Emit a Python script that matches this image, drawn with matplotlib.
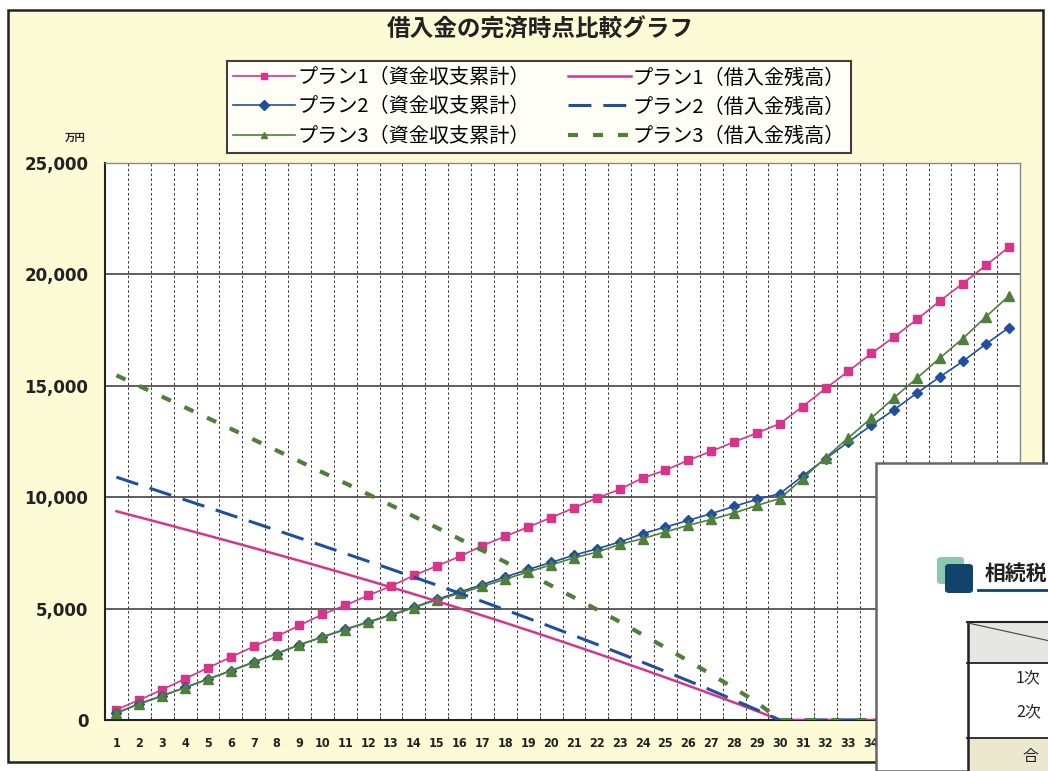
import numpy as np
import matplotlib
matplotlib.use("Agg")
import matplotlib.pyplot as plt
from matplotlib.patches import Rectangle, FancyBboxPatch
from matplotlib.lines import Line2D
from matplotlib.ticker import StrMethodFormatter, FixedLocator

plt.rcParams['font.family'] = ['Noto Sans CJK JP', 'DejaVu Sans']

# ---------------- data ----------------
years = list(range(1, 41))
tick_labels = [str(y) for y in years]

plan1_cum = [460, 905, 1360, 1850, 2340, 2820, 3300, 3750, 4245, 4740,
             5145, 5590, 6000, 6490, 6910, 7340, 7825, 8245, 8660, 9085,
             9515, 9960, 10350, 10860, 11210, 11660, 12060, 12480, 12880, 13300,
             14070, 14880, 15655, 16450, 17200, 17980, 18810, 19590, 20400, 21210]
plan2_cum = [320, 730, 1090, 1460, 1840, 2210, 2600, 2980, 3380, 3730,
             4070, 4400, 4720, 5060, 5420, 5740, 6080, 6420, 6760, 7070,
             7400, 7680, 7990, 8360, 8660, 8960, 9260, 9590, 9900, 10160,
             10950, 11730, 12480, 13230, 13930, 14680, 15400, 16100, 16870, 17600]
plan3_cum = [305, 720, 1080, 1450, 1830, 2200, 2590, 2970, 3370, 3720,
             4060, 4380, 4700, 5040, 5390, 5680, 6000, 6320, 6650, 6960,
             7280, 7530, 7880, 8140, 8440, 8740, 9000, 9290, 9630, 9940,
             10830, 11770, 12670, 13550, 14470, 15350, 16250, 17120, 18090, 19020]
plan1_bal = [9370, 9100, 8830, 8555, 8280, 8000, 7720, 7435, 7150, 6860,
             6565, 6265, 5960, 5650, 5335, 5015, 4690, 4360, 4025, 3685,
             3340, 2990, 2635, 2275, 1910, 1540, 1165, 785, 400, 0,
             0, 0, 0, 0, 0, 0, 0, 0, 0, 0]
plan2_bal = [10900, 10560, 10220, 9880, 9540, 9200, 8860, 8515, 8170, 7825,
             7475, 7125, 6770, 6415, 6055, 5690, 5320, 4945, 4565, 4180,
             3790, 3395, 2995, 2590, 2180, 1760, 1335, 900, 455, 0,
             0, 0, 0, 0, 0, 0, 0, 0, 0, 0]
plan3_bal = [15470, 14990, 14510, 14030, 13550, 13070, 12585, 12100, 11610, 11120,
             10630, 10135, 9640, 9140, 8635, 8125, 7610, 7090, 6565, 6035,
             5500, 4960, 4410, 3830, 3250, 2650, 2050, 1430, 790, 0,
             0, 0, 0, 0, 0, 0, 0, 0, 0, 0]

labels = ["プラン1（資金収支累計）", "プラン2（資金収支累計）", "プラン3（資金収支累計）",
          "プラン1（借入金残高）", "プラン2（借入金残高）", "プラン3（借入金残高）"]
title = "借入金の完済時点比較グラフ"
unit = "万円"

PINK = "#D8348A"
BLUE = "#1F4F9E"
GREEN = "#4F7F3A"
BG = "#FCFBD6"

W, H = 1048, 771
fig = plt.figure(figsize=(W / 100, H / 100), dpi=100)
fig.patch.set_facecolor("white")

def fx(px):
    return px / W

def fy(py):
    return 1 - py / H

# chart area background with border
fig.add_artist(Rectangle((fx(8), fy(762)), fx(1043) - fx(8), fy(10) - fy(762),
                         transform=fig.transFigure, facecolor=BG,
                         edgecolor="#222222", lw=1.8, zorder=-5))

ax = fig.add_axes([fx(105), fy(720), fx(1020) - fx(105), fy(163) - fy(720)])
ax.set_facecolor("white")
ax.set_xlim(0.5, 40.5)
ax.set_ylim(0, 25000)

# series
ax.plot(years, plan1_cum, color=PINK, lw=1.2, marker="s", ms=6,
        mfc=PINK, mec=PINK, label=labels[0], zorder=3)
ax.plot(years, plan2_cum, color=BLUE, lw=1.2, marker="D", ms=5.5,
        mfc=BLUE, mec=BLUE, label=labels[1], zorder=3)
ax.plot(years, plan3_cum, color=GREEN, lw=1.2, marker="^", ms=7,
        mfc=GREEN, mec=GREEN, label=labels[2], zorder=3)
ax.plot(years, plan1_bal, color=PINK, lw=1.8, label=labels[3], zorder=4)
ax.plot(years, plan2_bal, color=BLUE, lw=2.2, dashes=(7.5, 3.9),
        label=labels[4], zorder=4)
ax.plot(years, plan3_bal, color=GREEN, lw=3.0, dashes=(2.4, 3.6),
        label=labels[5], zorder=4)

# axes formatting
ax.yaxis.set_major_locator(FixedLocator([0, 5000, 10000, 15000, 20000, 25000]))
ax.yaxis.set_major_formatter(StrMethodFormatter("{x:,.0f}"))
ax.set_xticks(years)
ax.set_xticklabels(tick_labels)
ax.set_xticks(np.arange(1.5, 40.5, 1), minor=True)
ax.grid(axis="y", which="major", color="#333333", lw=1.1, zorder=1)
ax.grid(axis="x", which="minor", color="#333333", lw=0.7,
        linestyle=(0, (2.5, 2.5)), zorder=1)
ax.set_axisbelow(True)
ax.tick_params(axis="x", which="major", length=0, pad=12)
ax.tick_params(axis="x", which="minor", length=3, direction="in", color="#222222")
ax.tick_params(axis="y", which="major", length=0, pad=12)
for lab in ax.get_xticklabels():
    lab.set_family(["DejaVu Sans"])
    lab.set_fontstretch("condensed")
    lab.set_fontweight("bold")
    lab.set_fontsize(9)
    lab.set_color("#222222")
for lab in ax.get_yticklabels():
    lab.set_family(["DejaVu Sans"])
    lab.set_fontweight("bold")
    lab.set_fontsize(12)
    lab.set_color("#222222")
for side in ("left", "bottom"):
    ax.spines[side].set_color("#222222")
    ax.spines[side].set_linewidth(1.5)
for side in ("top", "right"):
    ax.spines[side].set_color("#888888")
    ax.spines[side].set_linewidth(1.0)

# title & unit
fig.text(fx(540), fy(30), title, ha="center", va="center", fontsize=17,
         fontweight="bold", fontstyle="italic", color="#222222")
fig.text(fx(75), fy(138), unit, ha="center", va="center", fontsize=7.5,
         fontweight="bold", color="#222222")

# legend
handles, labs = ax.get_legend_handles_labels()
leg = fig.legend(handles, labs, ncol=2, loc="center",
                 bbox_to_anchor=(fx(539), fy(107)), fontsize=14.5,
                 frameon=True, fancybox=False, edgecolor="#111111",
                 handlelength=3.1, handletextpad=0.1, columnspacing=1.9,
                 labelspacing=0.4, borderpad=0.3, borderaxespad=0)
leg.get_frame().set_linewidth(1.5)
leg.get_frame().set_facecolor("white")
for h in leg.legend_handles:
    h.set_markersize(5)

# overlapping document (bottom-right)
fig.add_artist(Rectangle((fx(876), fy(771)), fx(1050) - fx(876), fy(463) - fy(771),
                         transform=fig.transFigure, facecolor="white",
                         edgecolor="#666666", lw=1.8, zorder=20))
fig.add_artist(FancyBboxPatch((fx(937), fy(584)), fx(964) - fx(937), fy(557) - fy(584),
                              boxstyle="round,pad=0,rounding_size=0.004",
                              transform=fig.transFigure, facecolor="#8CC7AE",
                              edgecolor="none", zorder=21))
fig.add_artist(FancyBboxPatch((fx(945), fy(593)), fx(973) - fx(945), fy(564) - fy(593),
                              boxstyle="round,pad=0,rounding_size=0.004",
                              transform=fig.transFigure, facecolor="#12436A",
                              edgecolor="none", zorder=22))
fig.text(fx(985), fy(573), "相続税", ha="left", va="center", fontsize=15,
         fontweight="bold", color="#222222", zorder=23)
fig.add_artist(Line2D([fx(978), fx(1050)], [fy(590), fy(590)], transform=fig.transFigure,
                      color="#12436A", lw=2, zorder=23))
# table
fig.add_artist(Rectangle((fx(967), fy(663)), fx(1050) - fx(967), fy(622) - fy(663),
                         transform=fig.transFigure, facecolor="#E6E6E4",
                         edgecolor="none", zorder=21))
fig.add_artist(Rectangle((fx(967), fy(771)), fx(1050) - fx(967), fy(738) - fy(771),
                         transform=fig.transFigure, facecolor="#ECE7CF",
                         edgecolor="none", zorder=21))
for yy, lw in ((622, 1.5), (663, 1.3), (738, 1.3)):
    fig.add_artist(Line2D([fx(967), fx(1050)], [fy(yy), fy(yy)], transform=fig.transFigure,
                          color="#222222", lw=lw, zorder=23))
fig.add_artist(Line2D([fx(968), fx(968)], [fy(622), fy(771)], transform=fig.transFigure,
                      color="#222222", lw=1.8, zorder=23))
fig.add_artist(Line2D([fx(968), fx(1050)], [fy(623), fy(641)], transform=fig.transFigure,
                      color="#444444", lw=0.8, zorder=23))
fig.text(fx(1016), fy(679), "1次", ha="left", va="center", fontsize=11.5,
         color="#222222", zorder=23)
fig.text(fx(1016), fy(713), "2次", ha="left", va="center", fontsize=11.5,
         color="#222222", zorder=23)
fig.text(fx(1022), fy(757), "合", ha="left", va="center", fontsize=11.5,
         color="#222222", zorder=23)

fig.savefig("out.png", dpi=100)
